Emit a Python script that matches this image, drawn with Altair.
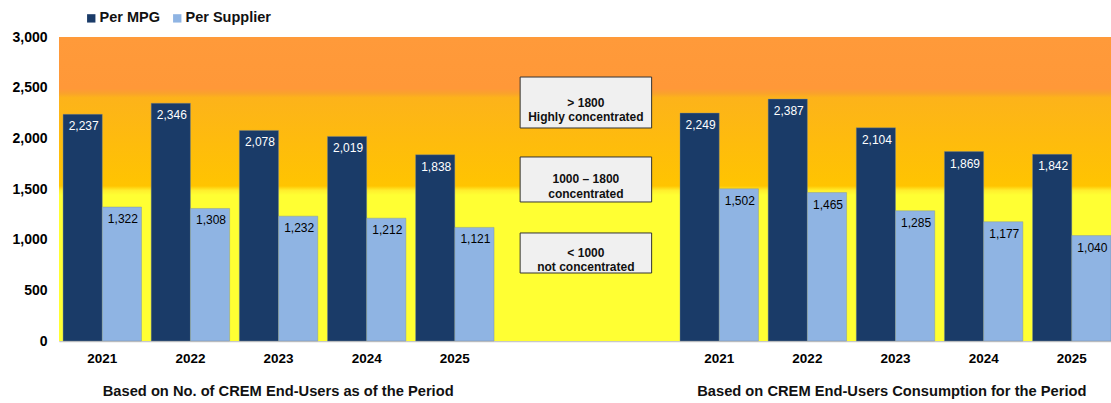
import altair as alt
import pandas as pd

# ---- data ----
years = ["2021", "2022", "2023", "2024", "2025"]
series = ["Per MPG", "Per Supplier"]
mpg_users = [2237, 2346, 2078, 2019, 1838]
sup_users = [1322, 1308, 1232, 1212, 1121]
mpg_cons = [2249, 2387, 2104, 1869, 1842]
sup_cons = [1502, 1465, 1285, 1177, 1040]
y_ticks = [0, 500, 1000, 1500, 2000, 2500, 3000]

group_a = ["A-" + y for y in years]
group_b = ["B-" + y for y in years]
slots = group_a + ["G1-", "G2-"] + group_b

captions = ["Based on No. of CREM End-Users as of the Period",
            "Based on CREM End-Users Consumption for the Period"]
caption_pos = [2.5, 9.5]

box_lines = ["> 1800\nHighly concentrated",
             "1000 \u2013 1800\nconcentrated",
             "< 1000\nnot concentrated"]
box_top = [2605, 1816, 1066]
box_bottom = [2102, 1372, 671]

rows = []
for slot_list, mpg, sup in [(group_a, mpg_users, sup_users), (group_b, mpg_cons, sup_cons)]:
    for s, m, p in zip(slot_list, mpg, sup):
        rows.append({"slot": s, "series": series[0], "value": m})
        rows.append({"slot": s, "series": series[1], "value": p})
df = pd.DataFrame(rows)

FONT = "Liberation Sans"
W, H = 1052, 304

band_scale = alt.Scale(domain=slots, paddingInner=0.11, paddingOuter=0.023, align=1)
x_band = alt.X(
    "slot:N",
    scale=band_scale,
    axis=alt.Axis(title=None, labelExpr="split(datum.label, '-')[1]", labelAngle=0,
                  ticks=False, domainColor="#c8c8c8", domainWidth=1.5,
                  labelFont=FONT, labelFontSize=13.5, labelFontWeight="bold",
                  labelColor="black", labelPadding=10),
)
x_band_noaxis = alt.X("slot:N", scale=band_scale, axis=None)
x_off = alt.XOffset("series:N", scale=alt.Scale(domain=series))

y_scale = alt.Scale(domain=[0, 3000], nice=False)
y_axis = alt.Axis(title=None, values=y_ticks, labelExpr="format(datum.value, ',')",
                  grid=False, ticks=False,
                  domain=False, labelFont=FONT, labelFontSize=14, labelFontWeight="bold",
                  labelColor="black", labelPadding=12)


def Y(field):
    return alt.Y(field, scale=y_scale, axis=y_axis, title=None)


xq = alt.Scale(domain=[0, 12], nice=False, zero=False)

# background gradient
bg_df = pd.DataFrame({"x0": [0], "x1": [12], "y0": [0], "y1": [3000]})
grad = alt.LinearGradient(
    gradient="linear", x1=0, x2=0, y1=0, y2=1,
    stops=[
        alt.GradientStop(offset=0.0, color="#FF9A3A"),
        alt.GradientStop(offset=0.17, color="#FF9838"),
        alt.GradientStop(offset=0.185, color="#FAA22C"),
        alt.GradientStop(offset=0.2, color="#FDB31A"),
        alt.GradientStop(offset=0.49, color="#FFC400"),
        alt.GradientStop(offset=0.505, color="#FFEF2E"),
        alt.GradientStop(offset=0.52, color="#FFFF33"),
        alt.GradientStop(offset=1.0, color="#FFFF33"),
    ],
)
bg = alt.Chart(bg_df).mark_rect(fill=grad).encode(
    x=alt.X("x0:Q", scale=xq, axis=None), x2="x1:Q",
    y=Y("y0:Q"), y2="y1:Q",
)

bars = alt.Chart(df).mark_bar(stroke="#7a8a9a", strokeWidth=0.4).encode(
    x=x_band, xOffset=x_off, y=Y("value:Q"),
    color=alt.Color("series:N", scale=alt.Scale(domain=series, range=["#1A3B68", "#8FB4E3"]),
                    legend=alt.Legend(orient="none", legendX=25, legendY=-26, direction="horizontal",
                                      title=None, symbolType="square", symbolSize=70,
                                      symbolStrokeWidth=0, labelFont=FONT, labelFontSize=14.5,
                                      labelFontWeight="bold", labelColor="#111111",
                                      columnPadding=10, labelOffset=1)),
)

labels = alt.Chart(df).mark_text(baseline="middle", dy=12, dx=1, fontSize=12, font=FONT).encode(
    x=x_band_noaxis, xOffset=x_off, y=Y("value:Q"),
    text=alt.Text("value:Q", format=","),
    color=alt.condition("datum.series == 'Per MPG'", alt.value("white"), alt.value("black")),
)

box_df = pd.DataFrame({"x0": [5.26] * 3, "x1": [6.76] * 3, "top": box_top, "bottom": box_bottom,
                       "txt": box_lines})
box_df["mid"] = (box_df["top"] + box_df["bottom"]) / 2
box_df["xc"] = (box_df["x0"] + box_df["x1"]) / 2

boxes = alt.Chart(box_df).mark_rect(fill="#F0F0F0", stroke="#333333", strokeWidth=1).encode(
    x=alt.X("x0:Q", scale=xq, axis=None), x2="x1:Q",
    y=Y("top:Q"), y2="bottom:Q",
)
box_text = alt.Chart(box_df).mark_text(fontSize=12, fontWeight="bold", font=FONT, lineBreak="\n",
                                        lineHeight=14.5, baseline="middle", color="#111111").encode(
    x=alt.X("xc:Q", scale=xq, axis=None),
    y=Y("mid:Q"),
    text="txt:N",
)

cap_df = pd.DataFrame({"x": caption_pos, "y": [-500, -500], "t": captions})
caps = alt.Chart(cap_df).mark_text(fontSize=14.7, fontWeight="bold", font=FONT, baseline="middle",
                                    color="#111111").encode(
    x=alt.X("x:Q", scale=xq, axis=None),
    y=Y("y:Q"),
    text="t:N",
)

chart = alt.layer(bg, bars, labels, boxes, box_text, caps).resolve_scale(
    x="independent"
).properties(
    width=W, height=H,
    autosize=alt.AutoSizeParams(type="none"),
    padding={"left": 59, "top": 37, "right": 0, "bottom": 62},
).configure_view(stroke=None).configure(background="white")

chart.save("out.html", embed_options={"renderer": "svg", "actions": False})
